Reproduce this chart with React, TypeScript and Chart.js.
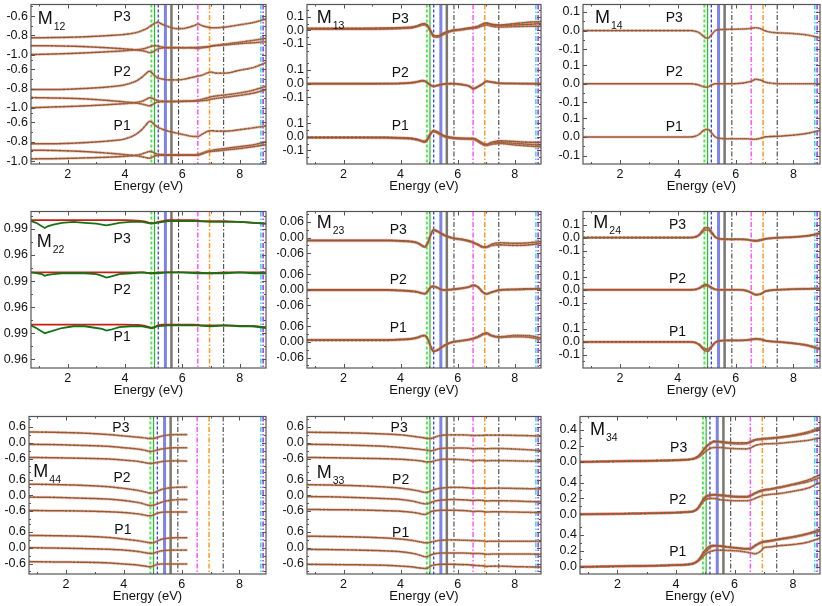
import React, { useEffect, useRef } from "react";
import { Chart, registerables } from "chart.js";
Chart.register(...registerables);

const FONT = "'Liberation Sans', Arial, Helvetica, sans-serif";

// ---------- x grids (eV) ----------
const energy = [0.72, 1.5, 2.5, 3.5, 4.0, 4.4, 4.6, 4.75, 4.85, 4.95, 5.05, 5.15, 5.3, 5.5, 5.8, 6.1, 6.4, 6.55, 6.7, 6.9, 7.0, 7.2, 7.5, 8.0, 8.5, 8.92];
const energyM44 = [0.72, 1.5, 2.5, 3.5, 4.0, 4.4, 4.6, 4.75, 4.85, 4.95, 5.05, 5.15, 5.3, 5.5, 5.8, 6.2];
const energyM22Data = [0.72, 0.9, 1.1, 1.2, 1.3, 1.5, 1.8, 2.2, 2.6, 3.0, 3.2, 3.35, 3.5, 3.8, 4.2, 4.6, 4.9, 5.1, 5.5, 6.0, 6.5, 7.0, 7.5, 8.0, 8.5, 8.92];
const xTickValues = [2, 4, 6, 8];
const xTickLabels = ["2", "4", "6", "8"];
const xMinorValues = [1, 3, 5, 7];

// ---------- critical-point energies (vertical markers) ----------
const vLineEnergies = [4.92, 5.03, 5.16, 5.41, 5.62, 5.87, 6.54, 6.95, 7.44, 8.74, 8.82];

// ---------- M12 ----------
const m12_p3_a = [-0.825, -0.822, -0.815, -0.8, -0.789, -0.77, -0.75, -0.73, -0.71, -0.69, -0.672, -0.665, -0.685, -0.708, -0.73, -0.725, -0.7, -0.682, -0.7, -0.715, -0.72, -0.72, -0.713, -0.69, -0.665, -0.63];
const m12_p3_b = [-0.906, -0.908, -0.915, -0.93, -0.94, -0.95, -0.958, -0.968, -0.978, -0.975, -0.955, -0.94, -0.93, -0.928, -0.928, -0.927, -0.925, -0.923, -0.92, -0.917, -0.912, -0.905, -0.898, -0.885, -0.875, -0.865];
const m12_p3_c = [-0.998, -0.992, -0.982, -0.967, -0.958, -0.948, -0.94, -0.93, -0.92, -0.91, -0.905, -0.91, -0.92, -0.925, -0.926, -0.927, -0.93, -0.935, -0.928, -0.918, -0.91, -0.9, -0.89, -0.87, -0.85, -0.83];
const m12_p2_a = [-0.81, -0.81, -0.8, -0.78, -0.76, -0.72, -0.68, -0.64, -0.62, -0.64, -0.67, -0.69, -0.7, -0.71, -0.71, -0.7, -0.68, -0.67, -0.66, -0.635, -0.63, -0.64, -0.64, -0.61, -0.58, -0.53];
const m12_p2_b = [-0.893, -0.897, -0.905, -0.925, -0.938, -0.95, -0.96, -0.972, -0.978, -0.965, -0.948, -0.94, -0.935, -0.935, -0.935, -0.932, -0.93, -0.928, -0.925, -0.918, -0.91, -0.9, -0.89, -0.87, -0.845, -0.81];
const m12_p2_c = [-0.998, -0.99, -0.98, -0.965, -0.955, -0.943, -0.93, -0.91, -0.895, -0.9, -0.915, -0.925, -0.93, -0.932, -0.93, -0.928, -0.925, -0.92, -0.91, -0.895, -0.885, -0.875, -0.865, -0.845, -0.815, -0.775];
const m12_p1_a = [-0.82, -0.82, -0.81, -0.79, -0.77, -0.72, -0.67, -0.62, -0.59, -0.6, -0.63, -0.65, -0.67, -0.69, -0.71, -0.73, -0.745, -0.745, -0.72, -0.69, -0.685, -0.69, -0.69, -0.675, -0.655, -0.635];
const m12_p1_b = [-0.887, -0.89, -0.9, -0.92, -0.933, -0.945, -0.955, -0.965, -0.97, -0.96, -0.945, -0.94, -0.94, -0.94, -0.94, -0.94, -0.94, -0.94, -0.925, -0.905, -0.9, -0.895, -0.885, -0.87, -0.85, -0.83];
const m12_p1_c = [-0.977, -0.975, -0.968, -0.958, -0.95, -0.938, -0.925, -0.91, -0.9, -0.905, -0.92, -0.928, -0.932, -0.935, -0.935, -0.935, -0.935, -0.93, -0.915, -0.895, -0.89, -0.88, -0.87, -0.85, -0.83, -0.8];

// ---------- M13 ----------
const m13_p3_a = [0.015, 0.015, 0.015, 0.018, 0.02, 0.025, 0.035, 0.048, 0.05, 0.035, 0.0, -0.035, -0.04, -0.02, 0.0, 0.008, 0.018, 0.022, 0.03, 0.05, 0.055, 0.045, 0.04, 0.05, 0.06, 0.065];
const m13_p3_b = [0.01, 0.01, 0.01, 0.012, 0.015, 0.02, 0.03, 0.042, 0.045, 0.03, -0.005, -0.04, -0.045, -0.025, -0.003, 0.005, 0.015, 0.02, 0.027, 0.045, 0.05, 0.04, 0.035, 0.04, 0.045, 0.05];
const m13_p3_c = [0.01, 0.01, 0.01, 0.012, 0.015, 0.02, 0.03, 0.04, 0.04, 0.025, -0.01, -0.045, -0.05, -0.03, -0.005, 0.003, 0.012, 0.015, 0.02, 0.035, 0.04, 0.03, 0.025, 0.028, 0.03, 0.03];
const m13_p2_a = [0.0, 0.0, 0.0, 0.0, 0.002, 0.008, 0.015, 0.022, 0.02, 0.005, -0.01, -0.02, -0.012, -0.003, 0.0, -0.005, -0.02, -0.04, -0.025, 0.0, 0.015, 0.01, 0.0, 0.0, 0.0, 0.0];
const m13_p2_b = [-0.003, -0.003, -0.003, -0.002, 0.0, 0.005, 0.012, 0.018, 0.016, 0.002, -0.013, -0.022, -0.015, -0.005, -0.002, -0.007, -0.018, -0.034, -0.022, 0.002, 0.018, 0.012, 0.003, 0.0, -0.003, -0.005];
const m13_p1_a = [-0.005, -0.005, -0.005, -0.005, -0.008, -0.012, -0.02, -0.035, -0.04, -0.02, 0.02, 0.045, 0.035, 0.01, -0.005, -0.01, -0.012, -0.012, -0.025, -0.05, -0.055, -0.04, -0.03, -0.035, -0.04, -0.04];
const m13_p1_b = [-0.005, -0.005, -0.005, -0.006, -0.009, -0.014, -0.022, -0.032, -0.036, -0.016, 0.022, 0.04, 0.03, 0.006, -0.008, -0.013, -0.015, -0.016, -0.03, -0.055, -0.06, -0.048, -0.04, -0.048, -0.055, -0.06];
const m13_p1_c = [-0.008, -0.008, -0.008, -0.009, -0.012, -0.016, -0.024, -0.03, -0.032, -0.012, 0.025, 0.038, 0.026, 0.002, -0.012, -0.016, -0.018, -0.02, -0.035, -0.06, -0.065, -0.055, -0.05, -0.06, -0.068, -0.075];

// ---------- M14 ----------
const m14_p3 = [0, 0, 0, 0, 0, 0, -0.003, -0.012, -0.025, -0.038, -0.04, -0.025, 0.0, 0.006, 0.007, 0.008, 0.01, 0.012, 0.016, 0.008, 0.0, -0.008, -0.012, -0.016, -0.024, -0.038];
const m14_p2 = [0, 0, 0, 0, 0, 0, -0.002, -0.008, -0.014, -0.018, -0.016, -0.008, 0.0, 0.0, 0.0, 0.002, 0.008, 0.014, 0.024, 0.018, 0.01, 0.004, 0.0, 0.0, 0.0, 0.0];
const m14_p1 = [0, 0, 0, 0, 0, 0, 0.004, 0.015, 0.03, 0.04, 0.04, 0.025, 0.0, -0.008, -0.01, -0.01, -0.01, -0.012, -0.012, -0.005, 0.0, 0.002, 0.004, 0.01, 0.02, 0.035];

// ---------- M22 ----------
const m22_p3_fit = [1.0, 1.0, 1.0, 1.0, 1.0, 0.9995, 0.999, 0.998, 0.997, 0.9965, 0.997, 0.998, 0.999, 1.0, 1.0, 1.0, 1.0, 0.9995, 0.999, 0.999, 0.999, 0.999, 0.999, 0.998, 0.997, 0.996];
const m22_p2_fit = [1.0, 1.0, 1.0, 1.0, 1.0, 1.0, 1.0, 0.9995, 0.999, 0.999, 0.9995, 1.0, 1.0, 1.0, 1.0, 1.0, 1.0, 1.0, 0.9995, 0.999, 0.999, 0.9995, 1.0, 1.0, 1.0, 1.0];
const m22_p1_fit = [1.0, 1.0, 1.0, 1.0, 1.0, 0.9995, 0.999, 0.998, 0.997, 0.996, 0.997, 0.999, 1.0, 1.0, 1.0, 1.0, 1.0, 0.9995, 0.999, 0.999, 0.999, 0.999, 0.999, 0.9985, 0.998, 0.997];
const m22_p3_data = [0.999, 0.997, 0.993, 0.991, 0.993, 0.995, 0.997, 0.998, 0.997, 0.996, 0.995, 0.994, 0.995, 0.997, 0.998, 0.998, 0.996, 0.997, 0.999, 0.999, 0.999, 0.998, 0.998, 0.998, 0.997, 0.996];
const m22_p2_data = [1.0, 0.999, 0.998, 0.996, 0.997, 0.998, 0.999, 0.999, 0.999, 0.998, 0.996, 0.994, 0.995, 0.998, 0.999, 1.0, 0.999, 0.999, 1.0, 1.0, 0.999, 0.999, 0.999, 1.0, 0.999, 0.999];
const m22_p1_data = [0.999, 0.996, 0.992, 0.99, 0.991, 0.993, 0.996, 0.998, 0.998, 0.996, 0.995, 0.993, 0.994, 0.997, 0.998, 0.998, 0.996, 0.998, 0.999, 0.999, 0.999, 0.998, 0.999, 0.998, 0.998, 0.996];

// ---------- M23 ----------
const m23_p3_a = [-0.01, -0.01, -0.01, -0.01, -0.012, -0.015, -0.02, -0.03, -0.035, -0.02, 0.01, 0.03, 0.025, 0.012, 0.0, -0.005, -0.012, -0.018, -0.025, -0.035, -0.035, -0.025, -0.02, -0.022, -0.02, -0.015];
const m23_p3_b = [-0.012, -0.012, -0.012, -0.012, -0.014, -0.017, -0.022, -0.032, -0.036, -0.022, 0.008, 0.027, 0.022, 0.009, -0.003, -0.008, -0.015, -0.021, -0.028, -0.038, -0.038, -0.03, -0.028, -0.03, -0.028, -0.022];
const m23_p2_a = [0.0, 0.0, 0.0, 0.0, -0.002, -0.005, -0.008, -0.013, -0.015, -0.005, 0.01, 0.014, 0.008, 0.0, 0.002, 0.006, 0.012, 0.018, 0.012, -0.01, -0.015, -0.008, 0.0, 0.002, 0.004, 0.004];
const m23_p2_b = [-0.002, -0.002, -0.002, -0.002, -0.004, -0.007, -0.01, -0.014, -0.016, -0.007, 0.008, 0.012, 0.006, -0.002, 0.0, 0.004, 0.01, 0.016, 0.01, -0.012, -0.017, -0.01, -0.002, 0.0, 0.002, 0.003];
const m23_p1_a = [0.008, 0.008, 0.008, 0.008, 0.01, 0.013, 0.018, 0.024, 0.025, 0.012, -0.015, -0.035, -0.03, -0.015, 0.0, 0.005, 0.01, 0.014, 0.02, 0.032, 0.035, 0.025, 0.02, 0.025, 0.024, 0.015];
const m23_p1_b = [0.006, 0.006, 0.006, 0.006, 0.008, 0.011, 0.016, 0.022, 0.023, 0.01, -0.017, -0.037, -0.032, -0.017, -0.002, 0.003, 0.008, 0.012, 0.017, 0.028, 0.031, 0.022, 0.017, 0.02, 0.018, 0.01];

// ---------- M24 ----------
const m24_p3_a = [0, 0, 0, 0, 0, 0, 0.005, 0.025, 0.055, 0.075, 0.075, 0.05, 0.005, -0.01, -0.012, -0.012, -0.015, -0.02, -0.022, -0.015, -0.01, -0.005, 0.0, 0.005, 0.015, 0.035];
const m24_p3_b = [0, 0, 0, 0, 0, 0, 0.004, 0.02, 0.042, 0.058, 0.058, 0.038, 0.002, -0.012, -0.014, -0.014, -0.017, -0.024, -0.028, -0.02, -0.013, -0.007, -0.002, 0.003, 0.012, 0.028];
const m24_p2_a = [0, 0, 0, 0, 0, 0, 0.003, 0.015, 0.03, 0.04, 0.035, 0.02, 0.003, 0.0, 0.0, 0.0, -0.01, -0.025, -0.04, -0.03, -0.015, -0.005, 0.0, 0.005, 0.008, 0.01];
const m24_p2_b = [0, 0, 0, 0, 0, 0, 0.002, 0.011, 0.022, 0.03, 0.027, 0.015, 0.002, 0.0, 0.0, 0.0, -0.008, -0.022, -0.036, -0.028, -0.014, -0.004, 0.0, 0.004, 0.006, 0.008];
const m24_p1_a = [0, 0, 0, 0, 0, 0, -0.005, -0.025, -0.05, -0.07, -0.07, -0.045, -0.005, 0.01, 0.012, 0.012, 0.015, 0.02, 0.025, 0.02, 0.012, 0.005, 0.0, -0.01, -0.025, -0.05];
const m24_p1_b = [0, 0, 0, 0, 0, 0, -0.004, -0.02, -0.04, -0.055, -0.055, -0.035, -0.003, 0.009, 0.011, 0.011, 0.013, 0.017, 0.021, 0.017, 0.01, 0.004, -0.001, -0.012, -0.03, -0.058];

// ---------- M44 ----------
const m44_p3_a = [0.41, 0.4, 0.37, 0.31, 0.26, 0.22, 0.2, 0.18, 0.16, 0.16, 0.17, 0.2, 0.25, 0.29, 0.31, 0.31];
const m44_p3_b = [-0.06, -0.07, -0.1, -0.14, -0.19, -0.23, -0.26, -0.29, -0.32, -0.33, -0.31, -0.28, -0.24, -0.21, -0.19, -0.19];
const m44_p3_c = [-0.56, -0.57, -0.59, -0.62, -0.66, -0.7, -0.73, -0.76, -0.78, -0.79, -0.77, -0.75, -0.72, -0.7, -0.69, -0.7];
const m44_p2_a = [0.42, 0.41, 0.38, 0.32, 0.26, 0.2, 0.16, 0.12, 0.09, 0.08, 0.1, 0.15, 0.22, 0.27, 0.3, 0.31];
const m44_p2_b = [-0.07, -0.08, -0.11, -0.15, -0.2, -0.26, -0.3, -0.35, -0.38, -0.39, -0.37, -0.33, -0.27, -0.21, -0.17, -0.16];
const m44_p2_c = [-0.58, -0.59, -0.6, -0.63, -0.66, -0.7, -0.73, -0.76, -0.78, -0.78, -0.74, -0.69, -0.65, -0.64, -0.64, -0.64];
const m44_p1_a = [0.47, 0.46, 0.44, 0.39, 0.33, 0.28, 0.25, 0.22, 0.2, 0.19, 0.2, 0.25, 0.32, 0.36, 0.38, 0.38];
const m44_p1_b = [0.0, -0.01, -0.03, -0.06, -0.09, -0.13, -0.16, -0.19, -0.21, -0.22, -0.2, -0.16, -0.12, -0.1, -0.09, -0.09];
const m44_p1_c = [-0.53, -0.54, -0.55, -0.58, -0.62, -0.65, -0.68, -0.7, -0.72, -0.72, -0.68, -0.64, -0.62, -0.62, -0.62, -0.62];

// ---------- M33 ----------
const m33_p3_a = [0.4, 0.39, 0.37, 0.33, 0.3, 0.25, 0.22, 0.2, 0.18, 0.16, 0.16, 0.19, 0.25, 0.29, 0.3, 0.3, 0.29, 0.27, 0.28, 0.28, 0.29, 0.29, 0.29, 0.28, 0.27, 0.25];
const m33_p3_b = [-0.06, -0.07, -0.1, -0.14, -0.18, -0.22, -0.24, -0.26, -0.27, -0.29, -0.31, -0.29, -0.24, -0.21, -0.2, -0.2, -0.21, -0.23, -0.22, -0.22, -0.23, -0.22, -0.22, -0.24, -0.27, -0.3];
const m33_p3_c = [-0.56, -0.57, -0.59, -0.61, -0.63, -0.66, -0.68, -0.7, -0.72, -0.73, -0.73, -0.7, -0.66, -0.63, -0.63, -0.64, -0.66, -0.69, -0.67, -0.67, -0.69, -0.68, -0.68, -0.69, -0.7, -0.7];
const m33_p2_a = [0.4, 0.39, 0.36, 0.31, 0.27, 0.21, 0.17, 0.13, 0.11, 0.12, 0.16, 0.2, 0.25, 0.28, 0.3, 0.3, 0.28, 0.26, 0.27, 0.27, 0.26, 0.27, 0.27, 0.26, 0.25, 0.24];
const m33_p2_b = [-0.05, -0.06, -0.09, -0.13, -0.16, -0.22, -0.27, -0.31, -0.33, -0.32, -0.28, -0.24, -0.2, -0.18, -0.16, -0.17, -0.19, -0.2, -0.19, -0.2, -0.22, -0.21, -0.21, -0.22, -0.24, -0.25];
const m33_p2_c = [-0.54, -0.55, -0.56, -0.59, -0.61, -0.65, -0.68, -0.72, -0.73, -0.7, -0.63, -0.6, -0.58, -0.57, -0.57, -0.58, -0.6, -0.62, -0.61, -0.62, -0.64, -0.63, -0.63, -0.64, -0.65, -0.66];
const m33_p1_a = [0.44, 0.43, 0.41, 0.37, 0.33, 0.28, 0.24, 0.21, 0.19, 0.19, 0.21, 0.24, 0.27, 0.29, 0.3, 0.29, 0.28, 0.27, 0.27, 0.26, 0.24, 0.25, 0.25, 0.25, 0.25, 0.24];
const m33_p1_b = [-0.06, -0.07, -0.09, -0.12, -0.15, -0.21, -0.26, -0.31, -0.34, -0.33, -0.28, -0.24, -0.21, -0.2, -0.2, -0.2, -0.21, -0.22, -0.22, -0.23, -0.25, -0.24, -0.24, -0.24, -0.24, -0.25];
const m33_p1_c = [-0.63, -0.64, -0.65, -0.67, -0.7, -0.73, -0.76, -0.78, -0.79, -0.77, -0.7, -0.66, -0.64, -0.63, -0.63, -0.64, -0.65, -0.67, -0.68, -0.69, -0.71, -0.7, -0.7, -0.72, -0.73, -0.74];

// ---------- M34 ----------
const m34_p3_a = [0.0, 0.004, 0.01, 0.016, 0.02, 0.028, 0.04, 0.07, 0.11, 0.16, 0.2, 0.23, 0.26, 0.255, 0.245, 0.238, 0.24, 0.255, 0.28, 0.29, 0.295, 0.3, 0.31, 0.335, 0.375, 0.43];
const m34_p3_b = [0.0, 0.004, 0.01, 0.016, 0.02, 0.028, 0.04, 0.065, 0.1, 0.145, 0.19, 0.22, 0.25, 0.245, 0.232, 0.225, 0.228, 0.245, 0.27, 0.28, 0.285, 0.29, 0.3, 0.325, 0.36, 0.41];
const m34_p3_c = [0.0, 0.004, 0.01, 0.016, 0.02, 0.028, 0.038, 0.055, 0.08, 0.11, 0.14, 0.165, 0.18, 0.18, 0.17, 0.165, 0.163, 0.175, 0.205, 0.222, 0.226, 0.228, 0.232, 0.25, 0.27, 0.3];
const m34_p2_a = [0.0, 0.004, 0.01, 0.016, 0.022, 0.03, 0.04, 0.08, 0.14, 0.2, 0.235, 0.245, 0.25, 0.245, 0.235, 0.225, 0.225, 0.24, 0.27, 0.3, 0.31, 0.32, 0.34, 0.38, 0.43, 0.5];
const m34_p2_b = [0.0, 0.004, 0.01, 0.016, 0.022, 0.03, 0.04, 0.075, 0.13, 0.185, 0.22, 0.232, 0.24, 0.235, 0.225, 0.215, 0.215, 0.23, 0.26, 0.29, 0.3, 0.31, 0.33, 0.37, 0.41, 0.46];
const m34_p2_c = [0.0, 0.004, 0.01, 0.016, 0.022, 0.03, 0.04, 0.07, 0.12, 0.17, 0.19, 0.2, 0.2, 0.185, 0.175, 0.17, 0.17, 0.18, 0.2, 0.23, 0.24, 0.25, 0.26, 0.29, 0.33, 0.4];
const m34_p1_a = [0.0, 0.004, 0.01, 0.016, 0.022, 0.03, 0.045, 0.08, 0.13, 0.19, 0.23, 0.26, 0.27, 0.265, 0.25, 0.24, 0.23, 0.235, 0.27, 0.31, 0.32, 0.33, 0.35, 0.38, 0.42, 0.47];
const m34_p1_b = [0.0, 0.004, 0.01, 0.016, 0.022, 0.03, 0.045, 0.075, 0.12, 0.17, 0.2, 0.24, 0.26, 0.258, 0.245, 0.232, 0.222, 0.226, 0.26, 0.3, 0.31, 0.32, 0.34, 0.37, 0.41, 0.45];
const m34_p1_c = [0.0, 0.004, 0.01, 0.016, 0.022, 0.03, 0.04, 0.07, 0.1, 0.14, 0.17, 0.19, 0.205, 0.21, 0.205, 0.2, 0.185, 0.175, 0.165, 0.2, 0.24, 0.25, 0.265, 0.28, 0.31, 0.36];

// ---------- y tick values / labels ----------
const ticksM12 = [-1.0, -0.8, -0.6];
const labelsM12 = ["-1.0", "-0.8", "-0.6"];
const ticksPm01 = [-0.1, 0.0, 0.1];
const labelsPm01 = ["-0.1", "0.0", "0.1"];
const ticksM22 = [0.96, 0.99];
const labelsM22 = ["0.96", "0.99"];
const ticksM23 = [-0.06, 0.0, 0.06];
const labelsM23 = ["-0.06", "0.00", "0.06"];
const ticksPm06 = [-0.6, 0.0, 0.6];
const labelsPm06 = ["-0.6", "0.0", "0.6"];
const ticksM34 = [0.0, 0.2, 0.4];
const labelsM34 = ["0.0", "0.2", "0.4"];

// ---------- styles ----------
const vLineStyles = [
  { color: "rgba(80,225,80,0.95)", width: 2, dash: [3, 2] },
  { color: "#22c022", width: 1.2, dash: [] as number[] },
  { color: "#2233dd", width: 1.2, dash: [3, 2] },
  { color: "rgba(100,110,230,0.85)", width: 3, dash: [] as number[] },
  { color: "rgba(105,105,95,0.9)", width: 2.5, dash: [] as number[] },
  { color: "#333333", width: 1, dash: [5, 2, 1.5, 2] },
  { color: "#ff55ff", width: 1.5, dash: [5, 2, 1.5, 2] },
  { color: "#ff9922", width: 1.5, dash: [5, 2, 1.5, 2] },
  { color: "#555555", width: 1.2, dash: [5, 2, 1.5, 2] },
  { color: "#33d8ee", width: 1.5, dash: [5, 2, 1.5, 2] },
  { color: "#9933ee", width: 1.5, dash: [5, 2, 1.5, 2] },
];
const HALO_COLOR = "rgba(225,120,110,0.35)";
const FIT_COLOR = "rgba(200,30,20,1)";
const DATA_COLOR = "rgba(20,115,20,1)";
const FRAME_COLOR = "#555555";
const TEXT_COLOR = "#111111";

type Sub = {
  label: string;
  min: number;
  max: number;
  ticks: number[];
  tickLabels: string[];
  xs: number[];
  curves: number[][];
  dataXs?: number[];
  dataCurves?: number[][];
  labelAt: [number, number];
};
type Panel = {
  sub: string;
  left: number;
  right: number;
  top: number;
  bottom: number;
  mOffset: [number, number];
  subs: Sub[]; // top to bottom
};

const ROW1 = [-2, 164];
const ROW2 = [205, 368];
const ROW3 = [410, 574];

const panels: Panel[] = [
  {
    sub: "12", left: 31, right: 266, top: ROW1[0], bottom: ROW1[1], mOffset: [6.7, 19.3],
    subs: [
      { label: "P3", min: -1.03, max: -0.48, ticks: ticksM12, tickLabels: labelsM12, xs: energy, curves: [m12_p3_a, m12_p3_b, m12_p3_c], labelAt: [3.9, -0.61] },
      { label: "P2", min: -1.03, max: -0.48, ticks: ticksM12, tickLabels: labelsM12, xs: energy, curves: [m12_p2_a, m12_p2_b, m12_p2_c], labelAt: [3.9, -0.63] },
      { label: "P1", min: -1.03, max: -0.48, ticks: ticksM12, tickLabels: labelsM12, xs: energy, curves: [m12_p1_a, m12_p1_b, m12_p1_c], labelAt: [3.9, -0.64] },
    ],
  },
  {
    sub: "13", left: 307, right: 541, top: ROW1[0], bottom: ROW1[1], mOffset: [9.7, 18.7],
    subs: [
      { label: "P3", min: -0.2, max: 0.19, ticks: ticksPm01, tickLabels: labelsPm01, xs: energy, curves: [m13_p3_a, m13_p3_b, m13_p3_c], labelAt: [3.99, 0.085] },
      { label: "P2", min: -0.2, max: 0.19, ticks: ticksPm01, tickLabels: labelsPm01, xs: energy, curves: [m13_p2_a, m13_p2_b], labelAt: [3.99, 0.08] },
      { label: "P1", min: -0.2, max: 0.19, ticks: ticksPm01, tickLabels: labelsPm01, xs: energy, curves: [m13_p1_a, m13_p1_b, m13_p1_c], labelAt: [3.99, 0.075] },
    ],
  },
  {
    sub: "14", left: 583, right: 820, top: ROW1[0], bottom: ROW1[1], mOffset: [12, 18.7],
    subs: [
      { label: "P3", min: -0.145, max: 0.14, ticks: ticksPm01, tickLabels: labelsPm01, xs: energy, curves: [m14_p3], labelAt: [3.88, 0.068] },
      { label: "P2", min: -0.145, max: 0.14, ticks: ticksPm01, tickLabels: labelsPm01, xs: energy, curves: [m14_p2], labelAt: [3.88, 0.063] },
      { label: "P1", min: -0.145, max: 0.14, ticks: ticksPm01, tickLabels: labelsPm01, xs: energy, curves: [m14_p1], labelAt: [3.88, 0.05] },
    ],
  },
  {
    sub: "22", left: 31, right: 266, top: ROW2[0], bottom: ROW2[1], mOffset: [5.7, 35],
    subs: [
      { label: "P3", min: 0.95, max: 1.01, ticks: ticksM22, tickLabels: labelsM22, xs: energy, curves: [m22_p3_fit], dataXs: energyM22Data, dataCurves: [m22_p3_data], labelAt: [3.9, 0.978] },
      { label: "P2", min: 0.95, max: 1.01, ticks: ticksM22, tickLabels: labelsM22, xs: energy, curves: [m22_p2_fit], dataXs: energyM22Data, dataCurves: [m22_p2_data], labelAt: [3.9, 0.98] },
      { label: "P1", min: 0.95, max: 1.01, ticks: ticksM22, tickLabels: labelsM22, xs: energy, curves: [m22_p1_fit], dataXs: energyM22Data, dataCurves: [m22_p1_data], labelAt: [3.9, 0.985] },
    ],
  },
  {
    sub: "23", left: 307, right: 541, top: ROW2[0], bottom: ROW2[1], mOffset: [9.7, 16.7],
    subs: [
      { label: "P3", min: -0.1, max: 0.1, ticks: ticksM23, tickLabels: labelsM23, xs: energy, curves: [m23_p3_a, m23_p3_b], labelAt: [3.92, 0.027] },
      { label: "P2", min: -0.1, max: 0.1, ticks: ticksM23, tickLabels: labelsM23, xs: energy, curves: [m23_p2_a, m23_p2_b], labelAt: [3.92, 0.037] },
      { label: "P1", min: -0.1, max: 0.1, ticks: ticksM23, tickLabels: labelsM23, xs: energy, curves: [m23_p1_a, m23_p1_b], labelAt: [3.92, 0.053] },
    ],
  },
  {
    sub: "24", left: 583, right: 820, top: ROW2[0], bottom: ROW2[1], mOffset: [10.3, 16.7],
    subs: [
      { label: "P3", min: -0.2, max: 0.2, ticks: ticksPm01, tickLabels: labelsPm01, xs: energy, curves: [m24_p3_a, m24_p3_b], labelAt: [3.99, 0.098] },
      { label: "P2", min: -0.2, max: 0.2, ticks: ticksPm01, tickLabels: labelsPm01, xs: energy, curves: [m24_p2_a, m24_p2_b], labelAt: [3.99, 0.081] },
      { label: "P1", min: -0.2, max: 0.2, ticks: ticksPm01, tickLabels: labelsPm01, xs: energy, curves: [m24_p1_a, m24_p1_b], labelAt: [3.99, 0.078] },
    ],
  },
  {
    sub: "44", left: 29, right: 266, top: ROW3[0], bottom: ROW3[1], mOffset: [4.3, 60],
    subs: [
      { label: "P3", min: -1.0, max: 1.0, ticks: ticksPm06, tickLabels: labelsPm06, xs: energyM44, curves: [m44_p3_a, m44_p3_b, m44_p3_c], labelAt: [3.9, 0.56] },
      { label: "P2", min: -1.0, max: 1.0, ticks: ticksPm06, tickLabels: labelsPm06, xs: energyM44, curves: [m44_p2_a, m44_p2_b, m44_p2_c], labelAt: [3.94, 0.66] },
      { label: "P1", min: -1.0, max: 1.0, ticks: ticksPm06, tickLabels: labelsPm06, xs: energyM44, curves: [m44_p1_a, m44_p1_b, m44_p1_c], labelAt: [3.97, 0.68] },
    ],
  },
  {
    sub: "33", left: 307, right: 541, top: ROW3[0], bottom: ROW3[1], mOffset: [9.7, 61.7],
    subs: [
      { label: "P3", min: -1.0, max: 1.0, ticks: ticksPm06, tickLabels: labelsPm06, xs: energy, curves: [m33_p3_a, m33_p3_b, m33_p3_c], labelAt: [3.95, 0.54] },
      { label: "P2", min: -1.0, max: 1.0, ticks: ticksPm06, tickLabels: labelsPm06, xs: energy, curves: [m33_p2_a, m33_p2_b, m33_p2_c], labelAt: [4.0, 0.59] },
      { label: "P1", min: -1.0, max: 1.0, ticks: ticksPm06, tickLabels: labelsPm06, xs: energy, curves: [m33_p1_a, m33_p1_b, m33_p1_c], labelAt: [4.0, 0.57] },
    ],
  },
  {
    sub: "34", left: 580, right: 820, top: ROW3[0], bottom: ROW3[1], mOffset: [10, 18.3],
    subs: [
      { label: "P3", min: -0.09, max: 0.57, ticks: ticksM34, tickLabels: labelsM34, xs: energy, curves: [m34_p3_a, m34_p3_b, m34_p3_c], labelAt: [4.09, 0.17] },
      { label: "P2", min: -0.09, max: 0.57, ticks: ticksM34, tickLabels: labelsM34, xs: energy, curves: [m34_p2_a, m34_p2_b, m34_p2_c], labelAt: [4.06, 0.18] },
      { label: "P1", min: -0.09, max: 0.57, ticks: ticksM34, tickLabels: labelsM34, xs: energy, curves: [m34_p1_a, m34_p1_b, m34_p1_c], labelAt: [4.06, 0.187] },
    ],
  },
];

const X_MIN = 0.72;
const X_MAX = 8.92;
const Y_AXIS_W = 30;
const X_AXIS_H = 30;
const PAD_TOP = 4;
const PAD_RIGHT = 2;

function labelFor(v: number, vals: number[], labels: string[]) {
  for (let i = 0; i < vals.length; i++) if (Math.abs(vals[i] - v) < 1e-9) return labels[i];
  return "";
}

function minorTicks(s: Sub) {
  const step = (s.ticks[1] - s.ticks[0]) / 2;
  const out: number[] = [];
  for (let v = s.ticks[0] - step * 20; v <= s.max + 1e-9; v += step) {
    if (v >= s.min - 1e-9 && !s.ticks.some((t) => Math.abs(t - v) < 1e-9)) out.push(v);
  }
  return out;
}

function decoPlugin(p: Panel) {
  return {
    id: "panelDeco",
    beforeDatasetsDraw(chart: any) {
      const { ctx, chartArea: a } = chart;
      const xs = chart.scales.x;
      ctx.save();
      ctx.beginPath();
      ctx.rect(a.left, a.top, a.right - a.left, a.bottom - a.top);
      ctx.clip();
      vLineEnergies.forEach((e, i) => {
        const st = vLineStyles[i];
        const px = xs.getPixelForValue(e);
        ctx.strokeStyle = st.color;
        ctx.lineWidth = st.width;
        ctx.setLineDash(st.dash);
        ctx.beginPath();
        ctx.moveTo(px, a.top);
        ctx.lineTo(px, a.bottom);
        ctx.stroke();
      });
      ctx.restore();
    },
    afterDraw(chart: any) {
      const { ctx, chartArea: a } = chart;
      const xs = chart.scales.x;
      ctx.save();
      ctx.setLineDash([]);
      ctx.strokeStyle = FRAME_COLOR;
      ctx.lineWidth = 1.2;
      ctx.strokeRect(a.left, a.top, a.right - a.left, a.bottom - a.top);
      ctx.lineWidth = 1;
      ctx.beginPath();
      const xt = (v: number, len: number) => {
        const px = Math.round(xs.getPixelForValue(v)) + 0.5;
        ctx.moveTo(px, a.bottom);
        ctx.lineTo(px, a.bottom - len);
        ctx.moveTo(px, a.top);
        ctx.lineTo(px, a.top + len);
      };
      xTickValues.forEach((v) => xt(v, 4));
      xMinorValues.forEach((v) => xt(v, 2));
      p.subs.forEach((s, i) => {
        const ys = chart.scales["y" + i];
        const yt = (v: number, len: number) => {
          const py = Math.round(ys.getPixelForValue(v)) + 0.5;
          if (py < ys.top || py > ys.bottom) return;
          ctx.moveTo(a.left, py);
          ctx.lineTo(a.left + len, py);
          ctx.moveTo(a.right, py);
          ctx.lineTo(a.right - len, py);
        };
        s.ticks.forEach((v) => yt(v, 4));
        minorTicks(s).forEach((v) => yt(v, 2));
      });
      ctx.stroke();

      // P labels
      ctx.fillStyle = TEXT_COLOR;
      ctx.font = `14px ${FONT}`;
      ctx.textAlign = "center";
      ctx.textBaseline = "middle";
      p.subs.forEach((s, i) => {
        const ys = chart.scales["y" + i];
        ctx.fillText(s.label, xs.getPixelForValue(s.labelAt[0]), ys.getPixelForValue(s.labelAt[1]));
      });
      // M label
      ctx.textAlign = "left";
      ctx.textBaseline = "alphabetic";
      ctx.font = `18px ${FONT}`;
      const mx = a.left + p.mOffset[0];
      const my = a.top + p.mOffset[1];
      ctx.fillText("M", mx, my);
      const w = ctx.measureText("M").width;
      ctx.font = `10.5px ${FONT}`;
      ctx.fillText(p.sub, mx + w + 1, my + 6);
      ctx.restore();
    },
  };
}

function PanelChart({ p }: { p: Panel }) {
  const ref = useRef<HTMLCanvasElement | null>(null);
  const cw = Y_AXIS_W + (p.right - p.left) + PAD_RIGHT;
  const ch = PAD_TOP + (p.bottom - p.top) + X_AXIS_H;

  useEffect(() => {
    if (!ref.current) return;
    const datasets: any[] = [];
    p.subs.forEach((s, i) => {
      if (s.dataCurves && s.dataXs) {
        const dx = s.dataXs;
        s.dataCurves.forEach((c) => {
          datasets.push({
            data: dx.map((x, k) => ({ x, y: c[k] })),
            yAxisID: "y" + i,
            xAxisID: "x",
            borderColor: DATA_COLOR,
            borderWidth: 1.8,
            pointRadius: 0,
            tension: 0,
            fill: false,
          });
        });
        s.curves.forEach((c) => {
          datasets.push({
            data: s.xs.map((x, k) => ({ x, y: c[k] })),
            yAxisID: "y" + i,
            xAxisID: "x",
            borderColor: FIT_COLOR,
            borderWidth: 1.8,
            pointRadius: 0,
            cubicInterpolationMode: "monotone",
            fill: false,
          });
        });
      } else {
        s.curves.forEach((c) => {
          const pts = s.xs.map((x, k) => ({ x, y: c[k] }));
          const common = {
            data: pts,
            yAxisID: "y" + i,
            xAxisID: "x",
            pointRadius: 0,
            cubicInterpolationMode: "monotone",
            fill: false,
          };
          datasets.push({ ...common, borderColor: HALO_COLOR, borderWidth: 3 });
          datasets.push({ ...common, borderColor: DATA_COLOR, borderWidth: 1.6, borderDash: [2, 2] });
          datasets.push({ ...common, borderColor: FIT_COLOR, borderWidth: 1.4, borderDash: [2, 2], borderDashOffset: 2 });
        });
      }
    });

    const scales: any = {
      x: {
        type: "linear",
        position: "bottom",
        min: X_MIN,
        max: X_MAX,
        grid: { display: false, drawTicks: false },
        border: { display: false },
        ticks: {
          font: { family: FONT, size: 12.5 },
          color: TEXT_COLOR,
          padding: 3,
          autoSkip: false,
          maxRotation: 0,
          callback: (v: number) => labelFor(v, xTickValues, xTickLabels),
        },
        afterBuildTicks: (sc: any) => {
          sc.ticks = xTickValues.map((v) => ({ value: v }));
        },
        afterFit: (sc: any) => {
          sc.height = X_AXIS_H;
        },
        title: {
          display: true,
          text: "Energy (eV)",
          font: { family: FONT, size: 13 },
          color: TEXT_COLOR,
          padding: { top: 0, bottom: 0 },
        },
      },
    };
    for (let i = p.subs.length - 1; i >= 0; i--) {
      const s = p.subs[i];
      scales["y" + i] = {
        type: "linear",
        position: "left",
        stack: "panel",
        stackWeight: 1,
        min: s.min,
        max: s.max,
        grid: { display: false, drawTicks: false },
        border: { display: false },
        ticks: {
          font: { family: FONT, size: 12.5 },
          color: TEXT_COLOR,
          padding: 3,
          autoSkip: false,
          callback: (v: number) => labelFor(v, s.ticks, s.tickLabels),
        },
        afterBuildTicks: (sc: any) => {
          sc.ticks = s.ticks.map((v) => ({ value: v }));
        },
        afterFit: (sc: any) => {
          sc.width = Y_AXIS_W;
        },
      };
    }

    const chart = new Chart(ref.current, {
      type: "line",
      data: { datasets },
      options: {
        responsive: false,
        animation: false,
        events: [],
        layout: { padding: { top: PAD_TOP, right: PAD_RIGHT, left: 0, bottom: 0 } },
        plugins: { legend: { display: false }, tooltip: { enabled: false } },
        scales,
      },
      plugins: [decoPlugin(p)],
    } as any);
    return () => chart.destroy();
  }, [p]);

  return (
    <canvas
      ref={ref}
      width={cw}
      height={ch}
      style={{
        position: "absolute",
        left: p.left - Y_AXIS_W,
        top: p.top - PAD_TOP,
        width: cw,
        height: ch,
      }}
    />
  );
}

export default function App() {
  return (
    <div
      style={{
        position: "absolute",
        left: 0,
        top: 0,
        width: 822,
        height: 606,
        overflow: "hidden",
        background: "#ffffff",
      }}
    >
      {panels.map((p) => (
        <PanelChart key={p.sub} p={p} />
      ))}
    </div>
  );
}
